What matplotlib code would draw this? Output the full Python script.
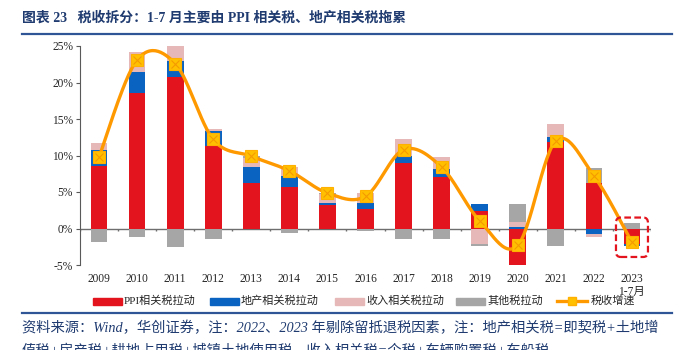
import matplotlib
matplotlib.use("Agg")
import matplotlib.pyplot as plt
import numpy as np
from matplotlib.patches import FancyBboxPatch, Rectangle
from matplotlib.lines import Line2D

# data (percent)
years = ["2009", "2010", "2011", "2012", "2013", "2014", "2015", "2016",
         "2017", "2018", "2019", "2020", "2021", "2022", "2023\n1-7月"]
ppi = [8.6, 18.6, 20.7, 11.3, 6.3, 5.7, 3.25, 2.7, 9.0, 7.05, 2.4, -5.0, 11.8, 6.3, -2.1]
estate = [2.2, 2.9, 2.3, 2.1, 2.1, 1.5, 0.2, 0.8, 1.0, 1.05, 1.0, 0.2, 0.7, -0.8, -0.35]
income = [0.9, 2.7, 2.1, 0.2, 1.3, 1.2, 1.25, 1.35, 2.2, 1.65, -2.1, 0.7, 1.8, -0.3, 0.0]
other = [-1.9, -1.2, -2.6, -1.4, 0.2, -0.55, 0.2, -0.4, -1.4, -1.4, -0.25, 2.45, -2.4, 2.0, 0.7]
growth = [9.8, 23.1, 22.6, 12.2, 9.9, 7.9, 4.85, 4.4, 10.8, 8.4, 1.05, -2.3, 12.0, 7.2, -1.9]

series = [("PPI相关税拉动", ppi, "#E3141E"),
          ("地产相关税拉动", estate, "#0B63C1"),
          ("收入相关税拉动", income, "#E6B9B8"),
          ("其他税拉动", other, "#A6A6A6")]

SERIF = ["Liberation Serif", "Noto Sans CJK SC"]
NAVY = "#1F3B70"


def smooth(x, y, n=30):
    # Excel-style smoothed line (Catmull-Rom as cubic Bezier)
    p = np.column_stack([x, y]).astype(float)
    out = []
    for i in range(len(p) - 1):
        p0 = p[i - 1] if i > 0 else p[i]
        p1, p2 = p[i], p[i + 1]
        p3 = p[i + 2] if i + 2 < len(p) else p[i + 1]
        c1 = p1 + (p2 - p0) / 6
        c2 = p2 - (p3 - p1) / 6
        t = np.linspace(0, 1, n)[:, None]
        seg = ((1 - t) ** 3) * p1 + 3 * ((1 - t) ** 2) * t * c1 + 3 * (1 - t) * t ** 2 * c2 + t ** 3 * p2
        out.append(seg if i == 0 else seg[1:])
    out = np.vstack(out)
    return out[:, 0], out[:, 1]


fig = plt.figure(figsize=(6.86, 3.5), dpi=100)
ax = fig.add_axes([80 / 686, 1 - 265 / 350, 571 / 686, 219 / 350])

x = np.arange(len(years))
pos_base = np.zeros(len(x))
neg_base = np.zeros(len(x))
for name, vals, col in series:
    v = np.array(vals)
    base = np.where(v >= 0, pos_base, neg_base)
    ax.bar(x, v, 0.44, bottom=base, color=col, edgecolor="none", zorder=2)
    pos_base = pos_base + np.where(v >= 0, v, 0)
    neg_base = neg_base + np.where(v < 0, v, 0)

sx, sy = smooth(x, growth)
ax.plot(sx, sy, color="#FF9900", lw=2.4, zorder=3, solid_capstyle="round")
ax.plot(x, growth, ls="none", marker="s", ms=9, mfc="#FFC000", mec="#FFB000", mew=0.8, zorder=4)
ax.plot(x, growth, ls="none", marker="x", ms=6, mec="#F59A00", mew=0.8, zorder=5)

# zero line with category boundary ticks
ax.axhline(0, color="#6E6E6E", lw=1, zorder=1)
ax.vlines(np.arange(-0.5, len(x)), -0.4, 0, color="#6E6E6E", lw=1, zorder=1)

# highlight box on the last bar
box = FancyBboxPatch((len(x) - 1 - 0.42, -3.9), 0.84, 5.4,
                     boxstyle="round,pad=0,rounding_size=0.12",
                     mutation_aspect=6, fill=False, ec="#E3141E", lw=1.6, ls=(0, (3, 1.5)), zorder=6)
ax.add_patch(box)

ax.set_xlim(-0.5, len(x) - 0.5)
ax.set_ylim(-5, 25)
ax.set_yticks(range(-5, 26, 5))
ax.set_yticklabels([f"{v}%" for v in range(-5, 26, 5)])
ax.set_xticks(x)
ax.set_xticklabels(years, linespacing=1.05)
for s in ["top", "right", "bottom"]:
    ax.spines[s].set_visible(False)
ax.spines["left"].set_color("#595959")
ax.tick_params(axis="y", direction="out", length=3, color="#595959", pad=2)
ax.tick_params(axis="x", length=0, pad=6)
for lab in ax.get_xticklabels() + ax.get_yticklabels():
    lab.set_fontfamily(SERIF)
    lab.set_fontsize(8.3)
    lab.set_color("#262626")

# title and rules
fig.text(22 / 686, 1 - 18 / 350, "图表 23   税收拆分：1-7 月主要由 PPI 相关税、地产相关税拖累",
         family=SERIF, weight="bold", fontsize=10, color=NAVY, va="center")
fig.add_artist(Line2D([22 / 686, 672 / 686], [1 - 34 / 350] * 2, color="#2F5597", lw=1.6))
fig.add_artist(Line2D([22 / 686, 672 / 686], [1 - 313 / 350] * 2, color="#2F5597", lw=1.6))

# legend drawn by hand
ly = 1 - 301 / 350
starts = [93, 210, 335, 456]
for (name, vals, col), sx0 in zip(series, starts):
    fig.add_artist(Rectangle((sx0 / 686, ly - 3.5 / 350), 29 / 686, 7 / 350, color=col,
                             transform=fig.transFigure))
    fig.text((sx0 + 31) / 686, ly, name, family=SERIF, fontsize=8, color="#262626", va="center")
fig.add_artist(Line2D([557 / 686, 587 / 686], [ly, ly], color="#FF9900", lw=2.4,
                      transform=fig.transFigure))
fig.add_artist(Line2D([572 / 686], [ly], ls="none", marker="s", ms=6, mfc="#FFC000", mec="#FFB000",
                      transform=fig.transFigure))
fig.text(591 / 686, ly, "税收增速", family=SERIF, fontsize=8, color="#262626", va="center")

# source note (second line is cut by the bottom edge, as in the original)
fig.text(22 / 686, 1 - 328 / 350,
         "资料来源：Wind，华创证券，注：2022、2023 年剔除留抵退税因素，注：地产相关税=即契税+土地增",
         family=SERIF, style="italic", fontsize=10.3, color=NAVY, va="center")
fig.text(22 / 686, 1 - 351 / 350,
         "值税+房产税+耕地占用税+城镇土地使用税，收入相关税=个税+车辆购置税+车船税",
         family=SERIF, style="italic", fontsize=10.3, color=NAVY, va="center")

fig.savefig("out.png", dpi=100)
